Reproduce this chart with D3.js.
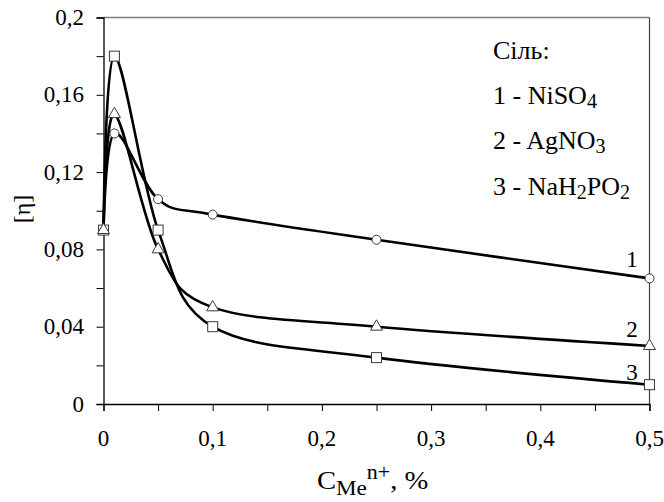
<!DOCTYPE html>
<html>
<head>
<meta charset="utf-8">
<script src="https://cdn.jsdelivr.net/npm/d3@7/dist/d3.min.js"></script>
</head>
<body style="margin:0;background:#fff">
<script>
// ---- data ----
const concentrations = [0, 0.01, 0.05, 0.1, 0.25, 0.5];
const niso4 = [0.09, 0.14, 0.106, 0.098, 0.085, 0.065];
const agno3 = [0.09, 0.15, 0.08, 0.05, 0.04, 0.03];
const nah2po2 = [0.09, 0.18, 0.09, 0.04, 0.024, 0.01];
const seriesNames = ["1", "2", "3"];
const xTicks = [0, 0.1, 0.2, 0.3, 0.4, 0.5];
const xTickLabels = ["0", "0,1", "0,2", "0,3", "0,4", "0,5"];
const yTicks = [0, 0.04, 0.08, 0.12, 0.16, 0.2];
const yTickLabels = ["0", "0,04", "0,08", "0,12", "0,16", "0,2"];

const W = 664, H = 502;
const FONT = '"Liberation Serif"';
const svg = d3.select("body").append("svg").attr("width", W).attr("height", H)
  .style("display", "block").style("font-family", FONT);

const x = d3.scaleLinear().domain([0, 0.5]).range([103.5, 649.5]);
const y = d3.scaleLinear().domain([0, 0.2]).range([404, 17.5]);

// frame: top (gray) and right
svg.append("line").attr("x1", x(0)).attr("x2", x(0.5)).attr("y1", y(0.2)).attr("y2", y(0.2))
  .attr("stroke", "#808080").attr("stroke-width", 1.5);
svg.append("line").attr("x1", x(0.5)).attr("x2", x(0.5)).attr("y1", y(0.2)).attr("y2", y(0))
  .attr("stroke", "#404040").attr("stroke-width", 1.2);

// y axis
const gy = svg.append("g").attr("transform", `translate(${x(0)},0)`)
  .call(d3.axisLeft(y).tickValues(d3.range(0, 0.2001, 0.02)).tickSize(7).tickFormat(() => ""));
gy.select(".domain").attr("stroke", "#000").attr("stroke-width", 1.3);
gy.selectAll(".tick line").attr("stroke", "#000").attr("stroke-width", 1);
gy.selectAll(".tick text").remove();

// x axis
const gx = svg.append("g").attr("transform", `translate(0,${y(0)})`)
  .call(d3.axisBottom(x).tickValues(d3.range(0, 0.5001, 0.05)).tickSize(7).tickFormat(() => ""));
gx.select(".domain").attr("stroke", "#000").attr("stroke-width", 1.3);
gx.selectAll(".tick line").attr("stroke", "#000").attr("stroke-width", 1);
gx.selectAll(".tick text").remove();

const txt = svg.append("g");
txt.selectAll("text.yl").data(yTicks).join("text").attr("class", "yl")
  .style("font-family", FONT).style("font-size", "23px")
  .attr("x", 84).attr("y", d => y(d) + 7.5)
  .attr("text-anchor", "end")
  .text((d, i) => yTickLabels[i]);
txt.selectAll("text.xl").data(xTicks).join("text").attr("class", "xl")
  .style("font-family", FONT).style("font-size", "23px")
  .attr("x", d => x(d)).attr("y", 446)
  .attr("text-anchor", "middle")
  .text((d, i) => xTickLabels[i]);

// axis titles
const xt = txt.append("text").style("font-family", FONT).style("font-size", "26px")
  .attr("transform", "translate(317,489) scale(1.1,1)");
xt.append("tspan").text("C");
xt.append("tspan").style("font-size", "21px").attr("dy", 6).text("Me");
xt.append("tspan").style("font-size", "20px").attr("dy", -16).text("n+");
xt.append("tspan").attr("dy", 10).text(", %");

txt.append("text").style("font-family", FONT).style("font-size", "24px")
  .attr("transform", "translate(30,209) rotate(-90)")
  .attr("text-anchor", "middle").text("[η]");

// curves
const series = [niso4, agno3, nah2po2];
const line = d3.line()
  .x((d, i) => x(concentrations[i]))
  .y(d => y(d))
  .curve(d3.curveCardinal.tension(0));
svg.append("g").selectAll("path").data(series).join("path")
  .attr("d", d => line(d))
  .attr("fill", "none").attr("stroke", "#000").attr("stroke-width", 2.6);

// markers
const mk = svg.append("g").attr("stroke", "#3a3a3a").attr("stroke-width", 1).attr("fill", "#fff");
mk.selectAll("circle").data(niso4).join("circle")
  .attr("cx", (d, i) => x(concentrations[i])).attr("cy", d => y(d)).attr("r", 4.5);
mk.selectAll("rect").data(nah2po2).join("rect")
  .attr("x", (d, i) => x(concentrations[i]) - 5).attr("y", d => y(d) - 5)
  .attr("width", 10).attr("height", 10);
const tri = d3.symbol().type(d3.symbolTriangle).size(62);
mk.selectAll("path.tri").data(agno3).join("path").attr("class", "tri")
  .attr("transform", (d, i) => `translate(${x(concentrations[i])},${y(d)})`)
  .attr("d", tri);

// curve labels
const labelY = [267, 337, 380];
svg.append("g").selectAll("text").data(seriesNames).join("text")
  .style("font-family", FONT).style("font-size", "23px")
  .attr("x", 632).attr("y", (d, i) => labelY[i])
  .attr("text-anchor", "middle")
  .text(d => d);

// legend
const lg = svg.append("g");
const legendText = (yy) => lg.append("text").style("font-family", FONT).style("font-size", "26px")
  .attr("x", 493).attr("y", yy);
legendText(59).text("Сіль:");
const l1 = legendText(104);
l1.append("tspan").text("1 - NiSO");
l1.append("tspan").style("font-size", "20px").attr("dy", 4).text("4");
const l2 = legendText(149);
l2.append("tspan").text("2 - AgNO");
l2.append("tspan").style("font-size", "20px").attr("dy", 4).text("3");
const l3 = legendText(195);
l3.append("tspan").text("3 - NaH");
l3.append("tspan").style("font-size", "20px").attr("dy", 4).text("2");
l3.append("tspan").attr("dy", -4).text("PO");
l3.append("tspan").style("font-size", "20px").attr("dy", 4).text("2");
</script>
</body>
</html>
